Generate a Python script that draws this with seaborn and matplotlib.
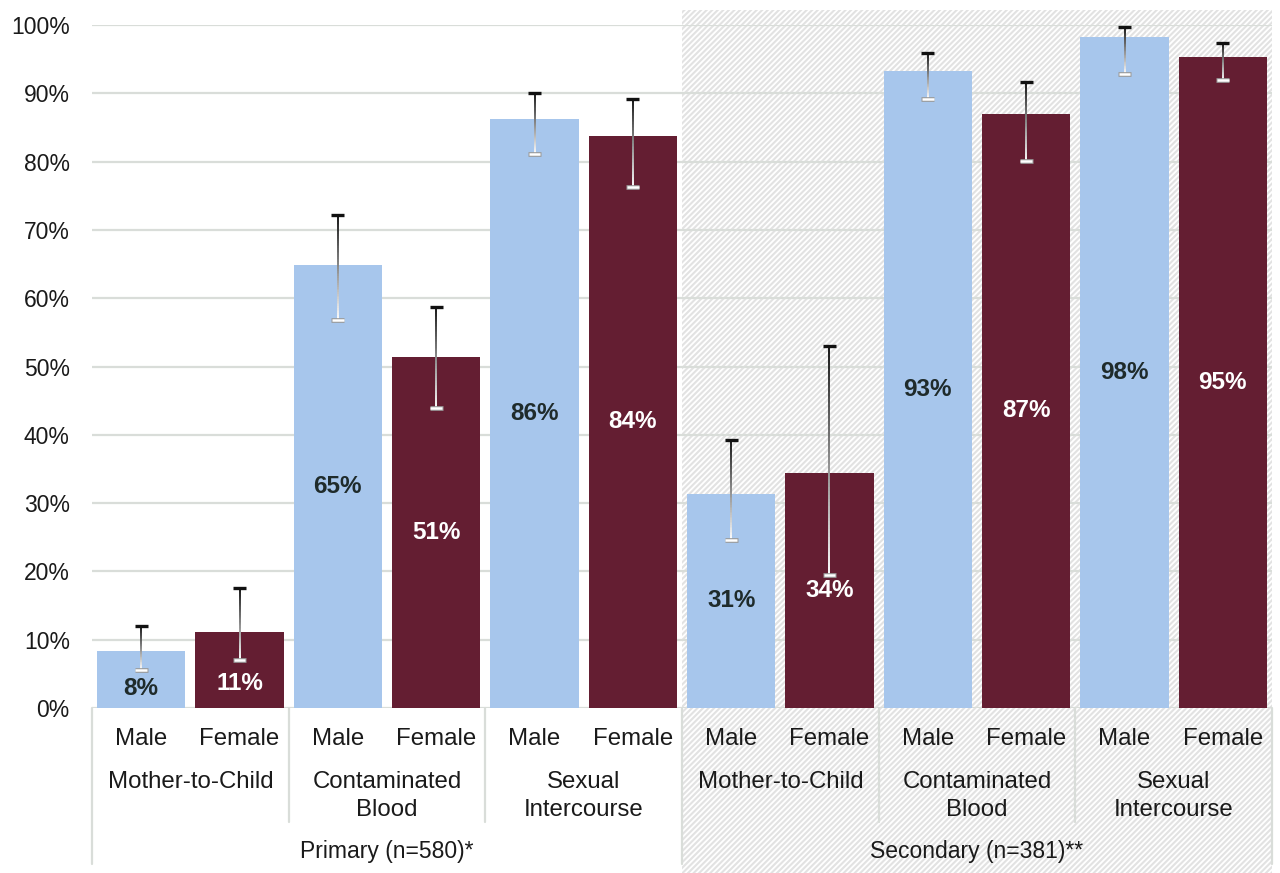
import numpy as np
import pandas as pd
import matplotlib.pyplot as plt
import matplotlib.transforms as mtransforms
import seaborn as sns
from matplotlib.collections import LineCollection
from matplotlib.patches import Rectangle

# data (percent)
groups = ["Primary (n=580)*", "Secondary (n=381)**"]
routes = ["Mother-to-Child", "Contaminated\nBlood", "Sexual\nIntercourse"]
sexes = ["Male", "Female"]

values = [8.3, 11.2, 64.8, 51.4, 86.2, 83.8, 31.4, 34.4, 93.3, 87.0, 98.2, 95.3]
ci_low = [5.6, 7.1, 56.8, 43.9, 81.1, 76.3, 24.6, 19.5, 89.2, 80.1, 92.8, 91.9]
ci_high = [12.0, 17.5, 72.2, 58.7, 90.0, 89.2, 39.2, 53.0, 95.9, 91.6, 99.7, 97.4]

rows = []
i = 0
for g in groups:
    for r in routes:
        for s in sexes:
            rows.append({'key': f'{g}|{r}|{s}', 'group': g, 'route': r, 'sex': s,
                         'value': values[i], 'low': ci_low[i], 'high': ci_high[i]})
            i += 1
df = pd.DataFrame(rows)

sns.set_style('white')
plt.rcParams['font.family'] = ['Liberation Sans', 'DejaVu Sans']
plt.rcParams['hatch.linewidth'] = 1.5

W, H = 1280, 873
fig = plt.figure(figsize=(W / 100, H / 100), dpi=100, facecolor='white')
ax = fig.add_axes([92 / W, 165 / H, 1180 / W, 683 / H])
px = 1 / 683  # one pixel in axes fraction (vertical)

trans = mtransforms.blended_transform_factory(ax.transData, ax.transAxes)

# hatched band behind the secondary school bars
bg = Rectangle((5.5, -165 * px), 6, (165 + 698) * px, transform=trans,
               facecolor='white', edgecolor='#e2e2e2', hatch='//////',
               linewidth=0, zorder=0, clip_on=False)
ax.add_patch(bg)

palette = {'Male': '#A7C6EC', 'Female': '#641E32'}
sns.barplot(data=df, x='key', y='value', hue='sex', order=list(df['key']),
            hue_order=sexes, palette=palette, dodge=False, width=0.9,
            saturation=1, legend=False, linewidth=0, ax=ax, zorder=2)

# gradient error bars (dark at top, white at bottom)
n = 60
for x, lo, hi in zip(range(len(df)), df['low'], df['high']):
    ys = np.linspace(lo, hi, n + 1)
    segs = [[(x, ys[k]), (x, ys[k + 1])] for k in range(n)]
    shade = np.linspace(1.0, 0.08, n)
    ax.add_collection(LineCollection(segs, colors=[(c, c, c) for c in shade],
                                     linewidths=1.4, zorder=4))
    ax.hlines(hi, x - 0.065, x + 0.065, color='#111111', lw=2.4, zorder=4)
    ax.hlines(lo, x - 0.065, x + 0.065, color='#9a9a9a', lw=3.4, zorder=4)
    ax.hlines(lo, x - 0.06, x + 0.06, color='white', lw=1.8, zorder=5)

# value labels: centred, or below the whisker when the bar is short
lab_col = {'Male': '#1F2B2B', 'Female': 'white'}
for x, (v, lo, s) in enumerate(zip(df['value'], df['low'], df['sex'])):
    y = v / 2 if v / 2 + 2 < lo else lo / 2
    ax.text(x, y, f'{v:.0f}%', ha='center', va='center', color=lab_col[s],
            fontsize=17.5, fontweight='bold', zorder=6)

ax.set_xlim(-0.5, 11.5)
ax.set_ylim(0, 100)
ax.set_yticks(range(0, 101, 10))
ax.set_yticklabels([f'{t}%' for t in range(0, 101, 10)])
ax.tick_params(axis='y', length=0, pad=16, labelsize=16.5, labelcolor='#1a1a1a')
ax.set_xticks([])
ax.set_xlabel('')
ax.set_ylabel('')
ax.set_axisbelow(True)
ax.yaxis.grid(True, color='#D9DDD9', lw=1.6)
ax.set_facecolor('white')
sns.despine(ax=ax, left=True, bottom=True)

# multi-level x labels
txt = dict(transform=trans, ha='center', va='baseline', fontsize=17.3,
           color='#1a1a1a', clip_on=False, zorder=6)
for x, s in enumerate(df['sex']):
    ax.text(x, -37 * px, s, **txt)

for j, r in enumerate(routes * len(groups)):
    xc = 2 * j + 0.5
    for k, line in enumerate(r.split('\n')):
        ax.text(xc, -(80 + 28 * k) * px, line, **txt)

for j, g in enumerate(groups):
    ax.text(6 * j + 2.5, -150 * px, g, **{**txt, 'fontsize': 16.5})

# separator lines below the axis
sep = dict(transform=trans, color='#D9DDD9', lw=1.6, clip_on=False, zorder=1)
for xs in [-0.5, 5.5, 11.5]:
    ax.plot([xs, xs], [0, -156 * px], **sep)
for xs in [1.5, 3.5, 7.5, 9.5]:
    ax.plot([xs, xs], [0, -114 * px], **sep)

fig.savefig('out.png', dpi=100, facecolor='white')
